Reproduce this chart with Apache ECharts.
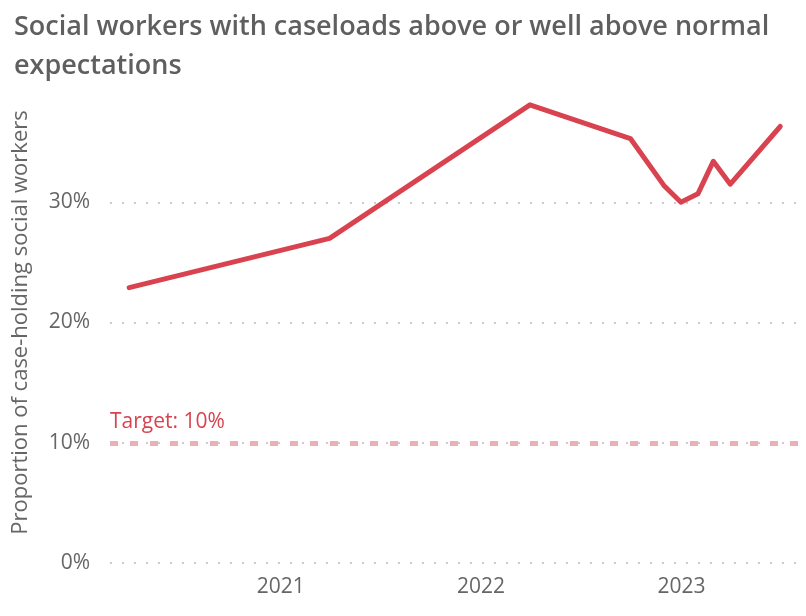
<!DOCTYPE html>
<html>
<head>
<meta charset="utf-8">
<script src="https://cdn.jsdelivr.net/npm/echarts@6/dist/echarts.min.js"></script>
<style>
  html, body { margin: 0; padding: 0; background: #ffffff; }
  #chart { width: 806px; height: 616px; }
</style>
</head>
<body>
<div id="chart"></div>
<script>
// Survey dates and share of case-holding social workers over normal caseload (%)
const dates = ['2020-03-31', '2021-03-31', '2022-03-31', '2022-09-30', '2022-11-30',
               '2022-12-31', '2023-01-31', '2023-02-28', '2023-03-31', '2023-06-30'];
const shares = [22.9, 27.0, 38.1, 35.3, 31.4, 30.0, 30.7, 33.4, 31.5, 36.3];

// Target level
const targetValue = 10;
const targetLabel = 'Target: 10%';

// Year labels shown on the date axis
const yearTicks = ['2021-01-01', '2022-01-01', '2023-01-01'];
const dateRange = ['2020-02-25', '2023-08-05'];

const fontFamily = '"Open Sans", "Noto Sans", sans-serif';
const red = '#D8434F';
const toMs = d => Date.parse(d + 'T00:00:00Z');

const chart = echarts.init(document.getElementById('chart'), null, { renderer: 'canvas' });

chart.setOption({
  animation: false,
  title: {
    text: 'Social workers with caseloads above or well above normal\nexpectations',
    left: 9,
    top: 3,
    textStyle: {
      fontFamily: fontFamily,
      fontWeight: 600,
      fontSize: 27,
      lineHeight: 39,
      color: '#5f5f5f'
    }
  },
  grid: { left: 110, right: 6, top: 82, bottom: 53, containLabel: false },
  xAxis: {
    type: 'value',
    min: toMs(dateRange[0]),
    max: toMs(dateRange[1]),
    axisLine: { show: false },
    axisTick: { show: false },
    splitLine: { show: false },
    axisLabel: {
      customValues: yearTicks.map(toMs),
      formatter: v => String(new Date(v).getUTCFullYear()),
      fontFamily: fontFamily,
      fontSize: 21,
      color: '#666666',
      margin: 14
    }
  },
  yAxis: {
    type: 'value',
    min: 0,
    max: 40,
    interval: 10,
    name: 'Proportion of case-holding social workers',
    nameLocation: 'middle',
    nameGap: 78,
    nameTextStyle: { fontFamily: fontFamily, fontSize: 22, color: '#666666' },
    axisLine: { show: false },
    axisTick: { show: false },
    axisLabel: {
      showMaxLabel: false,
      formatter: v => v + '%',
      fontFamily: fontFamily,
      fontSize: 21,
      color: '#666666',
      margin: 20
    },
    splitLine: {
      show: true,
      showMaxLine: false,
      lineStyle: { color: '#cccccc', width: 2, type: [2, 10] }
    }
  },
  series: [
    {
      type: 'line',
      data: dates.map((d, i) => [toMs(d), shares[i]]),
      symbol: 'none',
      lineStyle: { color: red, width: 5, cap: 'round', join: 'round' },
      markLine: {
        silent: true,
        symbol: 'none',
        data: [{ yAxis: targetValue }],
        lineStyle: { color: '#EDAFB6', width: 5, type: [8, 12] },
        label: {
          show: true,
          position: 'insideStartTop',
          formatter: targetLabel,
          fontFamily: fontFamily,
          fontSize: 21,
          color: '#D8434F',
          distance: [0, 10]
        }
      }
    }
  ]
});
</script>
</body>
</html>
